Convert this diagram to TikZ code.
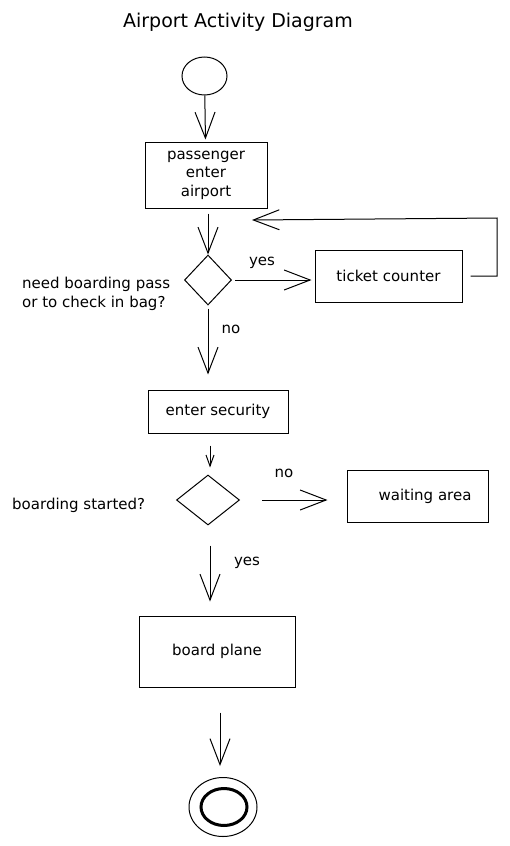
\documentclass[tikz,border=0pt]{standalone}
\usepackage{fontspec}
\setmainfont{DejaVu Sans}
\usetikzlibrary{arrows.meta,shapes.geometric}
\tikzset{
  box/.style={draw, line width=1pt, rectangle, inner sep=0pt, align=center},
  dia/.style={draw, line width=1pt, diamond, inner sep=0pt},
  lbl/.style={inner sep=0pt},
  arr/.style={line width=1pt, -{Straight Barb[length=26pt,width=20pt,line width=1pt]}},
  arrsmall/.style={line width=1pt, -{Straight Barb[length=11pt,width=8pt,line width=1pt]}},
  ln/.style={line width=1pt}
}
\begin{document}
\begin{tikzpicture}[x=1pt,y=-1pt, every node/.style={font=\fontsize{15}{18.5}\selectfont, text=black}]
\useasboundingbox (0,0) rectangle (510,846);

\node[lbl, font=\fontsize{19}{22}\selectfont] (title) at (238,22) {Airport Activity Diagram};

\node[draw, line width=1pt, ellipse, minimum width=45pt, minimum height=38pt, inner sep=0pt] (start) at (204.5,76) {};

\node[box, minimum width=122pt, minimum height=66pt] (b1) at (206,175) {passenger\\enter\\airport};

\node[dia, minimum width=47pt, minimum height=50pt] (d1) at (208,280) {};

\node[lbl, anchor=west, align=left] (q1) at (22,294) {need boarding pass\\or to check in bag?};

\node[box, minimum width=147pt, minimum height=52pt] (tc) at (388.5,276) {ticket counter};

\coordinate (fb1) at (497,273);
\coordinate (fb2) at (497,218);
\coordinate (fb3) at (252,220);

\node[box, minimum width=140pt, minimum height=43pt] (sec) at (218,411.5) {enter security};

\node[dia, minimum width=63pt, minimum height=50pt] (d2) at (208,500) {};

\node[lbl, anchor=west] (q2) at (12,505) {boarding started?};

\node[box, minimum width=141pt, minimum height=52pt] (wait) at (417.5,496) {\hspace*{15pt}waiting area};

\node[box, minimum width=156pt, minimum height=71pt] (bp) at (217,651.5) {board plane};

\node[draw, line width=1pt, ellipse, minimum width=68pt, minimum height=59pt, inner sep=0pt] (endo) at (223,807) {};
\node[draw, line width=3pt, ellipse, minimum width=46pt, minimum height=37pt, inner sep=0pt] (endi) at (224,807) {};

% labels
\node[lbl] (yes1) at (262,263) {yes};
\node[lbl] (no1) at (231,329) {no};
\node[lbl] (no2) at (284,473) {no};
\node[lbl] (yes2) at (247,563) {yes};

% connectors
\draw[arr, shorten >=2pt] (start) -- (b1);
\draw[arr, shorten <=5pt] (b1.south -| d1) -- (d1.north);
\draw[arr, shorten <=3pt, shorten >=3pt] (d1.east) -- (tc.west |- d1.east);
\draw[arr, shorten <=8pt] (tc.east) -- (fb1 |- tc.east) -- (fb2) -- (fb3);
\draw[arr, shorten <=3pt, shorten >=15pt] (d1.south) -- (d1 |- sec.north);
\draw[arrsmall, shorten <=12pt, shorten >=7pt] ([xshift=2pt]d2 |- sec.south) -- ([xshift=2pt]d2.north);
\draw[arr, shorten <=22pt, shorten >=19pt] (d2.east) -- (wait.west |- d2.east);
\draw[arr, shorten <=20pt, shorten >=14pt] ([xshift=2pt]d2.south) -- ([xshift=2pt]d2.south |- bp.north);
\draw[arr, shorten <=25pt, shorten >=11pt] ([xshift=3pt]bp.south) -- ([xshift=3pt]bp.south |- endo.north);
\end{tikzpicture}
\end{document}
